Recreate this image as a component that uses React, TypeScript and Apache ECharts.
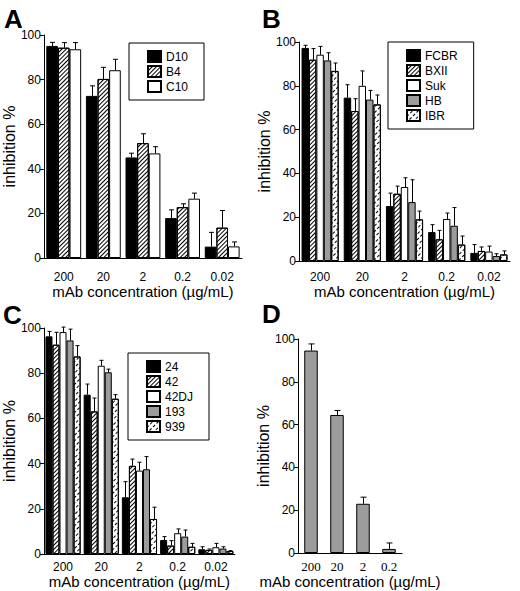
import React, { useEffect, useRef } from "react";
import * as echarts from "echarts";

const catsABC = ["200", "20", "2", "0.2", "0.02"];
const catsD = ["200", "20", "2", "0.2"];

// panel A
const d10 = [95.1, 72.7, 45.1, 17.9, 5.1];
const d10Err = [96.7, 77.2, 47, 21.6, 11.5];
const b4 = [94.3, 80.3, 51.5, 22.8, 13.6];
const b4Err = [96.6, 85.5, 55.7, 24.3, 21.3];
const c10 = [93.6, 84.2, 46.9, 26.6, 5.2];
const c10Err = [96.6, 89.1, 49.9, 29.1, 7.2];

// panel B
const fcbr = [97.3, 74.6, 25.1, 13.2, 3.7];
const fcbrErr = [98.5, 80.5, 31, 16.6, 7.5];
const bxii = [91.9, 68.5, 30.7, 9.9, 4.6];
const bxiiErr = [97, 74.1, 34.2, 14, 6.4];
const suk = [94.2, 80, 33.8, 19.2, 4.3];
const sukErr = [98, 86.8, 38, 21.9, 6.8];
const hb = [91.6, 73.7, 26.9, 16.1, 2.3];
const hbErr = [95.1, 77.9, 37.1, 24.4, 3.3];
const ibr = [86.8, 71.5, 19, 7.5, 3];
const ibrErr = [90.4, 75.8, 22.8, 11.4, 4.6];

// panel C
const s24 = [96.3, 70.5, 25.1, 6.2, 2.1];
const s24Err = [98.5, 75.2, 32, 7.7, 3.2];
const s42 = [92.6, 63.1, 39, 3.7, 1.8];
const s42Err = [98.1, 69, 42, 5.9, 2.2];
const s42dj = [98.2, 83.3, 36.9, 9.2, 3];
const s42djErr = [100.4, 85.7, 40.6, 11.1, 4.7];
const s193 = [94.5, 80.4, 37.5, 7.7, 2.4];
const s193Err = [99.5, 81.8, 43.1, 10.6, 3.2];
const s939 = [87.4, 68.7, 15.5, 3.2, 1.3];
const s939Err = [92.2, 70.5, 20.7, 4.7, 1.5];

// panel D
const dVals = [94.6, 64.5, 23, 1.9];
const dErr = [97.7, 66.6, 26.1, 4.7];

const SANS = "Liberation Sans";

const fills: Record<string, any> = {
  solid: { color: "#000" },
  hatch: {
    color: "#fff",
    decal: {
      symbol: "rect", symbolSize: 1, color: "#000", backgroundColor: "#fff",
      dashArrayX: [1, 0], dashArrayY: [1, 2], rotation: -Math.PI / 4,
    },
  },
  white: { color: "#fff" },
  gray: { color: "#9c9c9c" },
  dash: {
    color: "#fff",
    decal: {
      symbol: "rect", symbolSize: 1, color: "#000", backgroundColor: "#fff",
      dashArrayX: [3, 2], dashArrayY: [1, 2.5], rotation: -Math.PI / 4,
    },
  },
};

function errRender(idx: number, n: number, gap: number, cap: number) {
  return (params: any, api: any) => {
    const c = api.value(0);
    const band = api.size([1, 0])[0];
    const groupW = band * (1 - gap);
    const bw = groupW / n;
    const p0 = api.coord([c, api.value(1)]);
    const p1 = api.coord([c, api.value(2)]);
    const x = Math.round(p0[0] - groupW / 2 + bw * (idx + 0.5)) + 0.5;
    const style = { stroke: "#000", lineWidth: 1 };
    return {
      type: "group",
      children: [
        { type: "line", shape: { x1: x, y1: p0[1], x2: x, y2: p1[1] }, style },
        { type: "line", shape: { x1: x - cap, y1: p1[1], x2: x + cap, y2: p1[1] }, style },
      ],
    };
  };
}

function panelSeries(
  g: number, names: string[], vals: number[][], errs: number[][],
  kinds: string[], gap: number, cap: number
) {
  const out: any[] = [];
  names.forEach((name, i) => {
    out.push({
      type: "bar", name, xAxisIndex: g, yAxisIndex: g,
      data: vals[i], barGap: "0%", barCategoryGap: gap * 100 + "%",
      itemStyle: { ...fills[kinds[i]], borderColor: "#000", borderWidth: 1 },
    });
  });
  names.forEach((name, i) => {
    out.push({
      type: "custom", name: name + "_err", xAxisIndex: g, yAxisIndex: g, z: 5,
      renderItem: errRender(i, names.length, gap, cap),
      encode: { x: 0, y: 1 },
      data: vals[i].map((v, k) => [k, v, errs[i][k]]),
    });
  });
  return out;
}

function xAx(g: number, data: string[], margin: number, nameGap: number, labelFont = SANS, labelSize = 12) {
  return {
    type: "category", gridIndex: g, data,
    name: "mAb concentration (µg/mL)", nameLocation: "middle", nameGap,
    nameTextStyle: { fontFamily: SANS, fontSize: 15, color: "#000" },
    axisLine: { lineStyle: { color: "#000", width: 1 } },
    axisTick: { length: 4, lineStyle: { color: "#000" } },
    axisLabel: { fontFamily: labelFont, fontSize: labelSize, color: "#000", margin },
  };
}

function yAx(g: number, nameGap: number) {
  return {
    type: "value", gridIndex: g, min: 0, max: 100, interval: 20,
    name: "inhibition %", nameLocation: "middle", nameGap, nameRotate: 90,
    nameTextStyle: { fontFamily: SANS, fontSize: 16, color: "#000" },
    axisLine: { show: true, lineStyle: { color: "#000", width: 1 } },
    axisTick: { show: true, length: 4, lineStyle: { color: "#000" } },
    axisLabel: { fontFamily: SANS, fontSize: 12, color: "#000", margin: 3 },
    splitLine: { show: false },
  };
}

function legendAt(left: number, top: number, data: string[]) {
  return {
    left, top, orient: "vertical", data,
    itemWidth: 13, itemHeight: 11, itemGap: 2, itemTextGap: 8,
    padding: [7, 16, 7, 18], borderColor: "#000", borderWidth: 1,
    textStyle: { fontFamily: SANS, fontSize: 12, color: "#000" },
    icon: "rect", selectedMode: false,
  };
}

const letter = (text: string, left: number, top: number) => ({
  text, left, top, padding: 0,
  textStyle: { fontFamily: SANS, fontSize: 26, fontWeight: "bold", color: "#000" },
});

export default function App() {
  const ref = useRef<HTMLDivElement>(null);

  useEffect(() => {
    document.body.style.margin = "0";
    if (!ref.current) return;
    const chart = echarts.init(ref.current, undefined, { renderer: "svg" });

    const namesA = ["D10", "B4", "C10"];
    const namesB = ["FCBR", "BXII", "Suk", "HB", "IBR"];
    const namesC = ["24", "42", "42DJ", "193", "939"];
    const kinds5 = ["solid", "hatch", "white", "gray", "dash"];

    chart.setOption({
      animation: false,
      backgroundColor: "#fff",
      title: [letter("A", 4, 6), letter("B", 262, 6), letter("C", 3, 302), letter("D", 262, 301)],
      grid: [
        { left: 36, top: 35, width: 206, height: 223 },
        { left: 299, top: 42, width: 211, height: 219 },
        { left: 33, top: 328, width: 202, height: 226 },
        { left: 298, top: 339, width: 104, height: 214 },
      ],
      xAxis: [
        xAx(0, catsABC, 13, 25),
        xAx(1, catsABC, 10, 22),
        xAx(2, catsABC, 7, 18),
        xAx(3, catsD, 7, 19, "Liberation Serif", 13),
      ],
      yAxis: [yAx(0, 24), yAx(1, 24), yAx(2, 22), yAx(3, 24)],
      legend: [
        legendAt(129, 43, namesA),
        legendAt(388, 42, namesB),
        legendAt(128, 353, namesC),
      ],
      series: [
        ...panelSeries(0, namesA, [d10, b4, c10], [d10Err, b4Err, c10Err],
          ["solid", "hatch", "white"], 0.12, 2.5),
        ...panelSeries(1, namesB, [fcbr, bxii, suk, hb, ibr],
          [fcbrErr, bxiiErr, sukErr, hbErr, ibrErr], kinds5, 0.12, 2),
        ...panelSeries(2, namesC, [s24, s42, s42dj, s193, s939],
          [s24Err, s42Err, s42djErr, s193Err, s939Err], kinds5, 0.08, 2),
        ...panelSeries(3, ["D"], [dVals], [dErr], ["gray"], 0.48, 3),
      ],
    });

    return () => chart.dispose();
  }, []);

  return <div ref={ref} style={{ width: 520, height: 591 }} />;
}
